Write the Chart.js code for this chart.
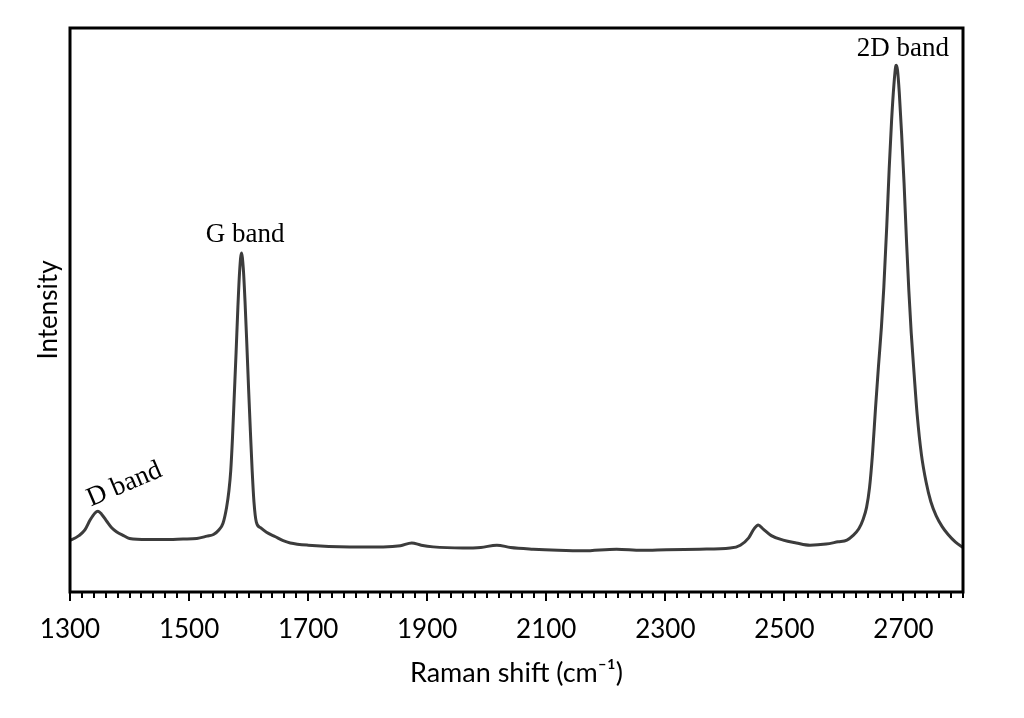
<!DOCTYPE html>
<html>
<head>
<meta charset="utf-8">
<script src="https://cdn.jsdelivr.net/npm/chart.js@4.4.1/dist/chart.umd.min.js"></script>
<style>
  html, body { margin: 0; padding: 0; background: #fff; }
</style>
</head>
<body>
<canvas id="ramanChart" width="1024" height="718"></canvas>
<script>
// Raman spectrum (x in cm-1, intensity in arbitrary units 0-100)
const ramanShift = [
  1300, 1303, 1315, 1325, 1334, 1342, 1347, 1353, 1362, 1370, 1378, 1390, 1400, 1430,
  1457, 1490, 1513, 1530, 1541, 1550, 1557, 1563, 1567, 1570, 1573, 1576, 1579, 1582,
  1585, 1588, 1591, 1594, 1597, 1600, 1603, 1606, 1609, 1613, 1620, 1630, 1645, 1658,
  1670, 1700, 1770, 1826, 1855, 1874, 1890, 1910, 1960, 1990, 2017, 2040, 2078, 2120,
  2162, 2218, 2260, 2302, 2358, 2409, 2426, 2440, 2449, 2456, 2464, 2478, 2498, 2520,
  2543, 2570, 2590, 2605, 2615, 2625, 2632, 2638, 2643, 2648, 2653, 2658, 2663, 2667,
  2672, 2676, 2680, 2684, 2687, 2688, 2690, 2693, 2697, 2701, 2705, 2709, 2713, 2718,
  2723, 2730, 2738, 2746, 2755, 2765, 2775, 2787, 2800
];
const intensity = [
  9.2, 9.3, 10.0, 11.0, 12.8, 14.0, 14.3, 13.8, 12.5, 11.4, 10.7, 10.0, 9.5, 9.3,
  9.3, 9.4, 9.5, 9.9, 10.2, 11.0, 12.2, 15.0, 18.0, 21.5, 27.5, 35.0, 42.5, 50.5,
  57.0, 60.1, 57.5, 51.5, 44.0, 36.0, 28.5, 21.5, 16.0, 12.4, 11.4, 10.6, 9.8, 9.1,
  8.7, 8.3, 8.0, 8.0, 8.2, 8.7, 8.3, 8.0, 7.8, 7.9, 8.3, 7.9, 7.6, 7.4,
  7.3, 7.6, 7.4, 7.5, 7.6, 7.8, 8.3, 9.6, 11.2, 11.9, 11.2, 10.0, 9.2, 8.7,
  8.3, 8.5, 8.9, 9.2, 10.0, 11.2, 12.8, 15.0, 18.5, 24.5, 32.5, 40.0, 47.0, 54.0,
  65.0, 75.0, 83.5, 90.0, 93.2, 93.4, 92.5, 88.5, 81.0, 72.5, 62.5, 53.5, 46.0, 38.5,
  31.5, 24.5, 19.5, 16.0, 13.5, 11.6, 10.2, 8.9, 7.9
];

const tickLabels = [1300, 1500, 1700, 1900, 2100, 2300, 2500, 2700];

// band annotations: text, anchor shift, anchor intensity
const bandLabels = ['D band', 'G band', '2D band'];
const bandLabelShift = [1396, 1594, 2699];
const bandLabelLevel = [17.9, 62.1, 95.0];

const points = ramanShift.map((x, i) => ({ x: x, y: intensity[i] }));

const frameAndLabels = {
  id: 'frameAndLabels',
  afterDraw(chart) {
    const { ctx, chartArea } = chart;
    const xs = chart.scales.x;
    const ys = chart.scales.y;
    ctx.save();
    // minor / major ticks below the axis
    ctx.strokeStyle = '#000';
    ctx.lineWidth = 2;
    xs.ticks.forEach(t => {
      const px = Math.round(xs.getPixelForValue(t.value));
      const major = tickLabels.includes(t.value);
      ctx.beginPath();
      ctx.moveTo(px, chartArea.bottom);
      ctx.lineTo(px, chartArea.bottom + (major ? 9 : 6));
      ctx.stroke();
    });
    // frame
    ctx.lineWidth = 3;
    ctx.strokeRect(chartArea.left, chartArea.top, chartArea.right - chartArea.left, chartArea.bottom - chartArea.top);
    // band names
    ctx.fillStyle = '#000';
    ctx.font = '27px "Liberation Serif", "Times New Roman", serif';
    ctx.textAlign = 'center';
    ctx.textBaseline = 'alphabetic';
    bandLabels.forEach((txt, i) => {
      const px = xs.getPixelForValue(bandLabelShift[i]);
      const py = ys.getPixelForValue(bandLabelLevel[i]);
      ctx.save();
      ctx.translate(px, py);
      if (i === 0) ctx.rotate(-23 * Math.PI / 180);
      ctx.fillText(txt, 0, 0);
      ctx.restore();
    });
    ctx.restore();
  }
};

new Chart(document.getElementById('ramanChart').getContext('2d'), {
  type: 'line',
  data: {
    datasets: [{
      label: 'Raman spectrum',
      data: points,
      borderColor: '#3c3c3c',
      borderWidth: 3,
      pointRadius: 0,
      fill: false,
      cubicInterpolationMode: 'monotone'
    }]
  },
  options: {
    responsive: false,
    animation: false,
    devicePixelRatio: 1,
    layout: { padding: { top: 28, right: 61, left: 0, bottom: 0 } },
    plugins: {
      legend: { display: false },
      tooltip: { enabled: false }
    },
    scales: {
      x: {
        type: 'linear',
        min: 1300,
        max: 2800,
        afterFit(s) { s.height = 126; },
        grid: { display: false, drawTicks: false },
        border: { display: false },
        ticks: {
          stepSize: 20,
          autoSkip: false,
          maxRotation: 0,
          padding: 22,
          color: '#000',
          font: { family: 'Lato', size: 26 },
          callback: v => tickLabels.includes(v) ? String(v) : ''
        },
        title: {
          display: true,
          text: 'Raman shift (cm\u207B\u00B9)',
          color: '#000',
          font: { family: 'Lato', size: 27 },
          padding: { top: 0, bottom: 29 }
        }
      },
      y: {
        min: 0,
        max: 100,
        afterFit(s) { s.width = 70; },
        grid: { display: false, drawTicks: false },
        border: { display: false },
        ticks: { display: false },
        title: {
          display: true,
          text: 'Intensity',
          color: '#000',
          font: { family: 'Lato', size: 26 },
          padding: { top: 33, bottom: 0 }
        }
      }
    }
  },
  plugins: [frameAndLabels]
});
</script>
</body>
</html>
